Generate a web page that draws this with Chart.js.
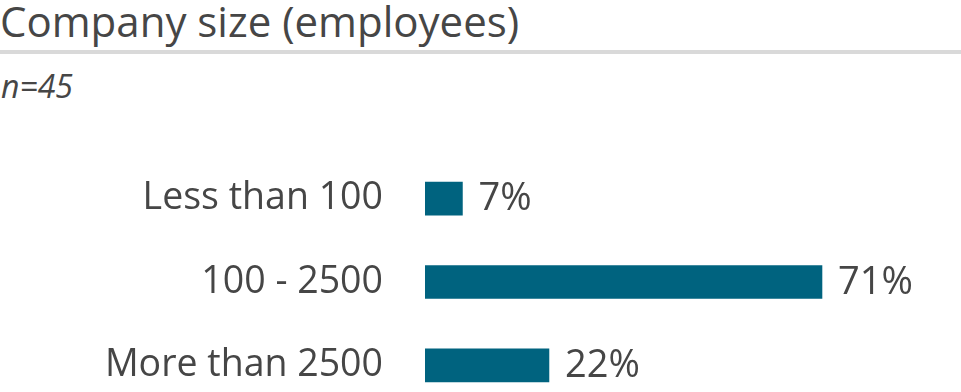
<!DOCTYPE html>
<html>
<head>
<meta charset="utf-8">
<script src="https://cdn.jsdelivr.net/npm/chart.js@4"></script>
<style>
  html, body { margin: 0; padding: 0; background: #fff; overflow: hidden; }
  body { width: 961px; height: 392px; position: relative; font-family: "Open Sans", sans-serif; color: #464646; }
  #title { position: absolute; left: 0; top: 0; font-size: 42px; line-height: 42px; white-space: nowrap; }
  #rule { position: absolute; left: 0; top: 50px; width: 961px; height: 4px; background: #d9d9d9; }
  #note { position: absolute; left: 1px; top: 70px; font-size: 32px; line-height: 32px; font-style: italic; }
  #wrap { position: absolute; left: 0; top: 157px; width: 961px; height: 250px; }
</style>
</head>
<body>
<div id="title">Company size (employees)</div>
<div id="rule"></div>
<div id="note">n=45</div>
<div id="wrap"><canvas id="chart"></canvas></div>
<script>
const categories = ["Less than 100", "100 - 2500", "More than 2500"]
const shares = [6.7, 71.1, 22.2]

const barColor = "#00637f"
const textColor = "#464646"

// percent labels at the end of each bar
const valueLabels = {
    id: "valueLabels",
    afterDatasetsDraw(chart) {
        const ctx = chart.ctx
        const meta = chart.getDatasetMeta(0)
        ctx.save()
        ctx.font = "38px 'Open Sans'"
        ctx.fillStyle = textColor
        ctx.textAlign = "left"
        ctx.textBaseline = "middle"
        meta.data.forEach((bar, i) => {
            ctx.fillText(Math.round(shares[i]) + "%", bar.x + 16, bar.y + 1)
        })
        ctx.restore()
    }
}

new Chart(document.getElementById("chart"), {
    type: "bar",
    data: {
        labels: categories,
        datasets: [{
            data: shares,
            backgroundColor: barColor,
            barThickness: 33
        }]
    },
    options: {
        indexAxis: "y",
        responsive: true,
        maintainAspectRatio: false,
        animation: false,
        layout: { padding: 0 },
        plugins: {
            legend: { display: false },
            tooltip: { enabled: false }
        },
        scales: {
            x: { display: false, min: 0, max: 96 },
            y: {
                grid: { display: false, drawTicks: false },
                border: { display: false },
                ticks: {
                    color: textColor,
                    font: { family: "Open Sans", size: 37.5 },
                    padding: 42
                },
                afterFit(scale) {
                    scale.width = 425
                    scale.paddingTop = 0
                    scale.paddingBottom = 0
                }
            }
        }
    },
    plugins: [valueLabels]
})
</script>
</body>
</html>
